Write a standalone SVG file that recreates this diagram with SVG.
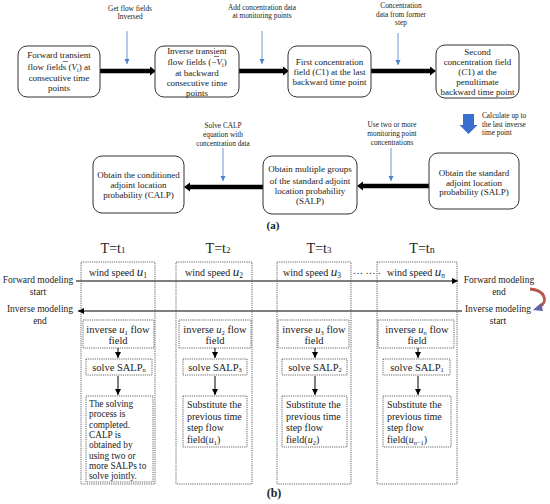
<svg xmlns="http://www.w3.org/2000/svg" width="550" height="504" viewBox="0 0 550 504">
<defs>
<style>
text{font-family:"Liberation Serif","Times New Roman",serif;fill:#222}
.bx{fill:#fff;stroke:#333;stroke-width:1}
.t{font-size:9px;text-anchor:middle}
.s{font-size:7.3px;text-anchor:middle}
.thick{stroke:#000;stroke-width:4.5;fill:none}
.blue{stroke:#4a7fd0;stroke-width:0.8;fill:none}
.dot{fill:none;stroke:#555;stroke-width:0.9;stroke-dasharray:1.2 1}
.lab{font-size:9.5px;text-anchor:middle}
.ct{font-size:10.5px;text-anchor:middle}
.m{font-style:italic;font-size:13px}
.T{font-size:14px;text-anchor:middle}
.ws{font-size:10px;text-anchor:middle}
.sub{font-size:10px}
</style>
<marker id="bh" markerWidth="6" markerHeight="6" refX="5" refY="3" orient="auto" markerUnits="userSpaceOnUse">
<path d="M0,0.5 L5,3 L0,5.5 Z" fill="#4a7fd0"/>
</marker>
<marker id="kh" markerWidth="7" markerHeight="7" refX="6" refY="3.5" orient="auto" markerUnits="userSpaceOnUse">
<path d="M0,0.5 L6,3.5 L0,6.5 Z" fill="#000"/>
</marker>
</defs>
<rect width="550" height="504" fill="#fff"/>

<g id="labels-a">
<text class="s" x="130" y="11">Get flow fields</text>
<text class="s" x="130" y="19">Inversed</text>
<text class="s" x="262" y="10">Add concentration data</text>
<text class="s" x="262" y="18">at monitoring points</text>
<text class="s" x="401" y="8">Concentration</text>
<text class="s" x="401" y="17">data from former</text>
<text class="s" x="401" y="25">step</text>
<text class="s" x="482" y="118" style="text-anchor:start">Calculate up to</text>
<text class="s" x="482" y="127" style="text-anchor:start">the last inverse</text>
<text class="s" x="482" y="135" style="text-anchor:start">time point</text>
<text class="s" x="223" y="128">Solve CALP</text>
<text class="s" x="223" y="137">equation with</text>
<text class="s" x="223" y="146">concentration data</text>
<text class="s" x="392" y="127">Use two or more</text>
<text class="s" x="392" y="136">monitoring point</text>
<text class="s" x="392" y="145">concentrations</text>
<text x="273" y="229" style="font-size:11px;font-weight:bold;text-anchor:middle">(a)</text>
</g>

<g id="connectors">
<line class="thick" x1="100" y1="71" x2="151" y2="71"/>
<path d="M150,66.5 L156,71 L150,75.5 Z"/>
<line class="thick" x1="239" y1="71" x2="284" y2="71"/>
<path d="M283,66.5 L289,71 L283,75.5 Z"/>
<line class="thick" x1="371" y1="71" x2="431" y2="71"/>
<path d="M430,66.5 L436,71 L430,75.5 Z"/>
<line class="thick" x1="429" y1="186" x2="362" y2="186"/>
<path d="M363,181.5 L357,186 L363,190.5 Z"/>
<line class="thick" x1="263" y1="187" x2="189" y2="187"/>
<path d="M190,182.5 L184,187 L190,191.5 Z"/>
<line class="blue" x1="127" y1="31" x2="127" y2="64" marker-end="url(#bh)"/>
<line class="blue" x1="262" y1="31" x2="262" y2="64" marker-end="url(#bh)"/>
<line class="blue" x1="398" y1="33" x2="398" y2="65" marker-end="url(#bh)"/>
<line class="blue" x1="223" y1="148" x2="223" y2="181" marker-end="url(#bh)"/>
<line class="blue" x1="391" y1="148" x2="391" y2="181" marker-end="url(#bh)"/>
<path d="M463,114 L474,114 L474,125 L477.5,125 L468.5,134 L459.5,125 L463,125 Z" fill="#3b6fcf"/>
</g>

<g id="node-forward">
<rect class="bx" x="18" y="46" width="82" height="51" rx="9"/>
<text class="t" x="59" y="58">Forward transient</text>
<text class="t" x="59" y="70">flow fields (<tspan font-style="italic">V</tspan><tspan font-size="6" dy="2">i</tspan><tspan dy="-2">) at</tspan></text>
<text class="t" x="59" y="81">consecutive time</text>
<text class="t" x="59" y="91">points</text>
<line x1="63" y1="61.5" x2="68" y2="61.5" stroke="#222" stroke-width="0.6"/>
</g>
<g id="node-inverse">
<rect class="bx" x="155" y="46" width="84" height="51" rx="9"/>
<text class="t" x="197" y="54">Inverse transient</text>
<text class="t" x="197" y="65">flow fields (−<tspan font-style="italic">V</tspan><tspan font-size="6" dy="2">i</tspan><tspan dy="-2">)</tspan></text>
<text class="t" x="197" y="76">at backward</text>
<text class="t" x="197" y="86">consecutive time</text>
<text class="t" x="197" y="96">points</text>
<line x1="214" y1="56.5" x2="219" y2="56.5" stroke="#222" stroke-width="0.6"/>
</g>
<g id="node-first">
<rect class="bx" x="288" y="46" width="83" height="51" rx="9"/>
<text class="t" x="329.5" y="65">First concentration</text>
<text class="t" x="329.5" y="75">field (<tspan font-style="italic">C</tspan>1) at the last</text>
<text class="t" x="329.5" y="85">backward time point</text>
</g>
<g id="node-second">
<rect class="bx" x="436" y="45" width="83" height="53" rx="9"/>
<text class="t" x="477.5" y="55">Second</text>
<text class="t" x="477.5" y="65">concentration field</text>
<text class="t" x="477.5" y="75">(<tspan font-style="italic">C</tspan>1) at the</text>
<text class="t" x="477.5" y="85">penultimate</text>
<text class="t" x="477.5" y="95">backward time point</text>
</g>
<g id="node-salp">
<rect class="bx" x="429" y="153" width="90" height="56" rx="9"/>
<text class="t" x="474" y="176">Obtain the standard</text>
<text class="t" x="474" y="186">adjoint location</text>
<text class="t" x="474" y="195">probability (SALP)</text>
</g>
<g id="node-multi">
<rect class="bx" x="263" y="156" width="94" height="58" rx="9"/>
<text class="t" x="310" y="172">Obtain multiple groups</text>
<text class="t" x="310" y="184">of the standard adjoint</text>
<text class="t" x="310" y="194">location probability</text>
<text class="t" x="310" y="204">(SALP)</text>
</g>
<g id="node-calp">
<rect class="bx" x="93" y="156" width="91" height="57" rx="9"/>
<text class="t" x="138.5" y="178">Obtain the conditioned</text>
<text class="t" x="138.5" y="188">adjoint location</text>
<text class="t" x="138.5" y="198">probability (CALP)</text>
</g>

<g id="timeline">
<text class="T" x="113" y="253">T=t<tspan font-size="9">1</tspan></text>
<text class="T" x="218" y="253">T=t<tspan font-size="9">2</tspan></text>
<text class="T" x="319" y="253">T=t<tspan font-size="9">3</tspan></text>
<text class="T" x="422" y="253">T=t<tspan font-size="10">n</tspan></text>
<line x1="76" y1="281" x2="458" y2="281" stroke="#000" stroke-width="1.2" marker-end="url(#kh)"/>
<line x1="462" y1="311" x2="78" y2="311" stroke="#000" stroke-width="1.2" marker-end="url(#kh)"/>
<text class="lab" x="38" y="283">Forward modeling</text>
<text class="lab" x="38" y="295">start</text>
<text class="lab" x="40" y="312">Inverse modeling</text>
<text class="lab" x="40" y="324">end</text>
<text class="lab" x="499" y="283">Forward modeling</text>
<text class="lab" x="499" y="295">end</text>
<text class="lab" x="498" y="312">Inverse modeling</text>
<text class="lab" x="498" y="324">start</text>
<path d="M530,289 C545,290 549,302 539,307" fill="none" stroke="#b55a4a" stroke-width="3"/>
<path d="M541,303 L533,310 L543,311 Z" fill="#6460a8"/>
<text x="353" y="274" style="font-size:10px">… … .</text>
</g>

<g id="col-1">
<rect class="dot" x="81" y="262" width="74" height="222"/>
<text class="ws" x="118" y="276">wind speed <tspan class="m">u</tspan><tspan font-size="7.5" dy="2">1</tspan></text>
<rect class="dot" x="83" y="320" width="71" height="28"/>
<text class="ct" x="118" y="333">inverse <tspan font-style="italic">u</tspan><tspan font-size="6.5" dy="2">1</tspan><tspan dy="-2"> flow</tspan></text>
<text class="ct" x="118" y="344">field</text>
<line x1="118" y1="348" x2="118" y2="358" stroke="#000" stroke-width="1" marker-end="url(#kh)"/>
<rect class="dot" x="86" y="359" width="66" height="16"/>
<text class="ct" x="119" y="371">solve SALP<tspan font-size="6.5" dy="1">n</tspan></text>
<line x1="118" y1="376" x2="118" y2="395" stroke="#000" stroke-width="1" marker-end="url(#kh)"/>
<rect class="dot" x="86" y="396" width="67" height="86"/>
<g style="font-size:9.3px">
<text x="89" y="407">The solving</text>
<text x="89" y="417">process is</text>
<text x="89" y="428">completed.</text>
<text x="89" y="438">CALP  is</text>
<text x="89" y="448">obtained by</text>
<text x="89" y="459">using two or</text>
<text x="89" y="469">more SALPs to</text>
<text x="89" y="479">solve jointly.</text>
</g>
</g>

<g id="col-2">
<rect class="dot" x="176" y="262" width="76" height="222"/>
<text class="ws" x="214" y="276">wind speed <tspan class="m">u</tspan><tspan font-size="7.5" dy="2">2</tspan></text>
<rect class="dot" x="179" y="320" width="72" height="28"/>
<text class="ct" x="215" y="333">inverse <tspan font-style="italic">u</tspan><tspan font-size="6.5" dy="2">2</tspan><tspan dy="-2"> flow</tspan></text>
<text class="ct" x="215" y="344">field</text>
<line x1="215" y1="348" x2="215" y2="358" stroke="#000" stroke-width="1" marker-end="url(#kh)"/>
<rect class="dot" x="183" y="359" width="64" height="16"/>
<text class="ct" x="215" y="371">solve SALP<tspan font-size="6.5" dy="1">3</tspan></text>
<line x1="215" y1="376" x2="215" y2="395" stroke="#000" stroke-width="1" marker-end="url(#kh)"/>
<rect class="dot" x="183" y="396" width="64" height="51"/>
<g class="sub">
<text x="187" y="408">Substitute the</text>
<text x="187" y="420">previous time</text>
<text x="187" y="431">step flow</text>
<text x="187" y="443">field(<tspan font-style="italic">u</tspan><tspan font-size="6.5" dy="2">1</tspan><tspan dy="-2">)</tspan></text>
</g>
</g>

<g id="col-3">
<rect class="dot" x="277" y="262" width="74" height="222"/>
<text class="ws" x="312" y="276">wind speed <tspan class="m">u</tspan><tspan font-size="7.5" dy="2">3</tspan></text>
<rect class="dot" x="278" y="320" width="71" height="28"/>
<text class="ct" x="314" y="333">inverse <tspan font-style="italic">u</tspan><tspan font-size="6.5" dy="2">3</tspan><tspan dy="-2"> flow</tspan></text>
<text class="ct" x="314" y="344">field</text>
<line x1="315" y1="348" x2="315" y2="358" stroke="#000" stroke-width="1" marker-end="url(#kh)"/>
<rect class="dot" x="282" y="359" width="65" height="16"/>
<text class="ct" x="315" y="371">solve SALP<tspan font-size="6.5" dy="1">2</tspan></text>
<line x1="315" y1="376" x2="315" y2="395" stroke="#000" stroke-width="1" marker-end="url(#kh)"/>
<rect class="dot" x="282" y="396" width="65" height="51"/>
<g class="sub">
<text x="286" y="408">Substitute the</text>
<text x="286" y="420">previous time</text>
<text x="286" y="431">step flow</text>
<text x="286" y="443">field(<tspan font-style="italic">u</tspan><tspan font-size="6.5" dy="2">2</tspan><tspan dy="-2">)</tspan></text>
</g>
</g>

<g id="col-4">
<rect class="dot" x="377" y="262" width="80" height="222"/>
<text class="ws" x="416" y="276">wind speed <tspan class="m">u</tspan><tspan font-size="7.5" dy="2" font-style="italic">n</tspan></text>
<rect class="dot" x="378" y="320" width="76" height="28"/>
<text class="ct" x="417" y="333">inverse <tspan font-style="italic">u</tspan><tspan font-size="6.5" dy="2" font-style="italic">n</tspan><tspan dy="-2"> flow</tspan></text>
<text class="ct" x="417" y="344">field</text>
<line x1="418" y1="348" x2="418" y2="358" stroke="#000" stroke-width="1" marker-end="url(#kh)"/>
<rect class="dot" x="383" y="359" width="67" height="16"/>
<text class="ct" x="417" y="371">solve SALP<tspan font-size="6.5" dy="1">1</tspan></text>
<line x1="418" y1="376" x2="418" y2="395" stroke="#000" stroke-width="1" marker-end="url(#kh)"/>
<rect class="dot" x="383" y="396" width="68" height="51"/>
<g class="sub">
<text x="387" y="408">Substitute the</text>
<text x="387" y="420">previous time</text>
<text x="387" y="431">step flow</text>
<text x="387" y="443">field(<tspan font-style="italic">u</tspan><tspan font-size="6.5" dy="2" font-style="italic">n</tspan><tspan font-size="6.5">−1</tspan><tspan dy="-2">)</tspan></text>
</g>
</g>

<text x="274" y="497" style="font-size:12px;font-weight:bold;text-anchor:middle">(b)</text>
</svg>
